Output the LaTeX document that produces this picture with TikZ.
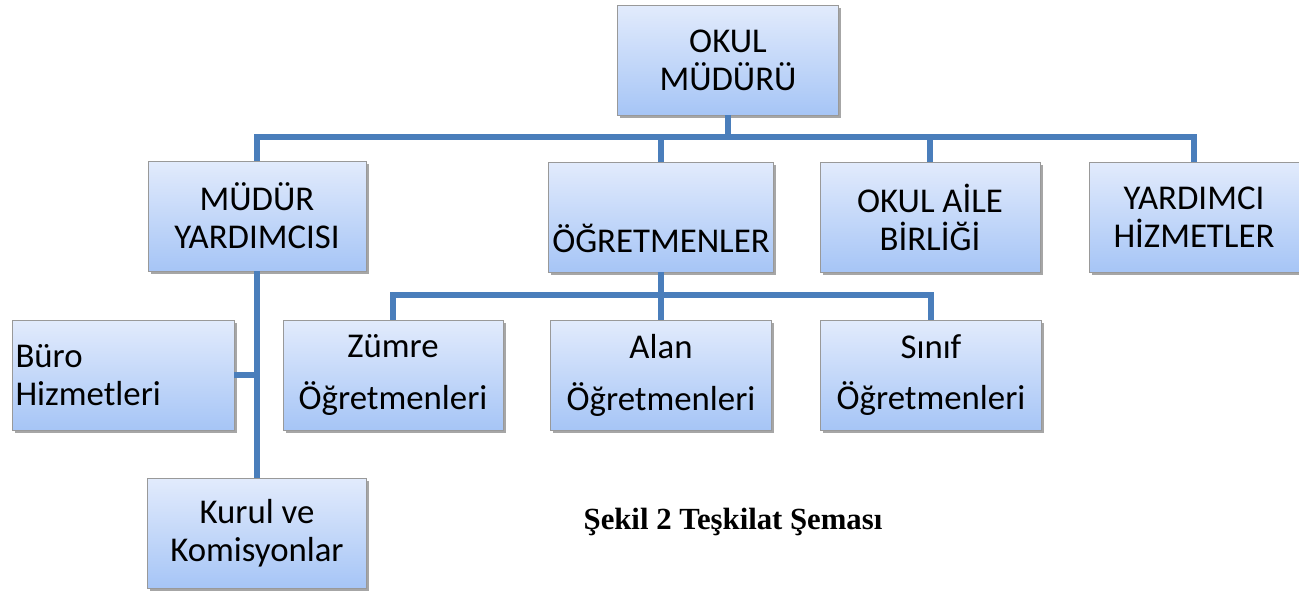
\documentclass[tikz,border=0pt]{standalone}
\usepackage{fontspec}
\setmainfont{Carlito}
\newfontfamily\capfont{Liberation Serif}
\usetikzlibrary{shadows}
\definecolor{linkblue}{RGB}{74,126,187}
\definecolor{boxtop}{RGB}{226,235,252}
\definecolor{boxbot}{RGB}{166,197,246}
\begin{document}
\begin{tikzpicture}[x=0.02cm, y=-0.02cm]
			\tikzset{
			    unit/.style= {rectangle, draw=gray!80, thin, top color=boxtop, bottom color=boxbot,
			        minimum width=4.42cm, minimum height=2.2cm, align=center, inner sep=2pt,
			        font=\fontsize{19.8}{21.6}\selectfont,
			        drop shadow={shadow xshift=1.5pt, shadow yshift=-1.5pt, fill=black, opacity=0.35}},
			    wide/.style= {font=\fontsize{19.8}{29.5}\selectfont},
			    link/.style= {draw=linkblue, line width=2.9pt},
			}
			\useasboundingbox (0,0) rectangle (1299,593);
			
			\node[unit] (mudur) at (728,60) {OKUL\\MÜDÜRÜ};
			\node[unit, minimum width=4.36cm] (myard) at (257,216) {MÜDÜR\\YARDIMCISI};
			\node[unit, font=\fontsize{19.8}{24}\selectfont] (ogrt) at (661,217) {\strut\\ÖĞRETMENLER};
			\node[unit, minimum width=4.4cm] (aile) at (930,217) {OKUL AİLE\\BİRLİĞİ};
			\node[unit, minimum width=4.2cm] (yhiz) at (1194,217) {YARDIMCI\\HİZMETLER};
			\node[unit, text width=4.3cm, align=left] (buro) at (123,375) {Büro\\Hizmetleri};
			\node[unit, wide, minimum width=4.4cm] (zumre) at (393,375) {Zümre\\Öğretmenleri};
			\node[unit, wide] (alan) at (661,375) {Alan\\Öğretmenleri};
			\node[unit, wide] (sinif) at (931,375) {Sınıf\\Öğretmenleri};
			\node[unit, minimum width=4.38cm] (kurul) at (257,533) {Kurul ve\\Komisyonlar};
			\node[font=\capfont\bfseries\fontsize{17.5}{20}\selectfont] (cap) at (733,522) {Şekil 2 Teşkilat Şeması};
			
			\coordinate (busA) at (728,137);
			\coordinate (busB) at (661,295);
			
			\draw[link] (mudur.south) -- (busA) -| (myard.north);
			\draw[link] (busA) -| (yhiz.north);
			\draw[link] (busA) -| (ogrt.north);
			\draw[link] (busA) -| (aile.north);
			\draw[link] (ogrt.south) -- (busB) -| (zumre.north);
			\draw[link] (busB) -| (sinif.north);
			\draw[link] (busB) -- (alan.north);
			\draw[link] (myard.south) -- (kurul.north);
			\draw[link] (buro.east) -- (buro.east -| myard.south);
		\end{tikzpicture}
\end{document}
